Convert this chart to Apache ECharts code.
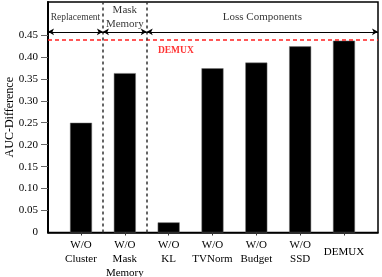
<!DOCTYPE html>
<html><head><meta charset="utf-8">
<script src="https://cdn.jsdelivr.net/npm/echarts@6/dist/echarts.min.js"></script>
<style>html,body{margin:0;padding:0;background:#fff}#c{width:382px;height:277px}</style>
</head><body><div id="c"></div>
<script>
var categories = ['W/O\nCluster', 'W/O\nMask\nMemory', 'W/O\nKL', 'W/O\nTVNorm', 'W/O\nBudget', 'W/O\nSSD', 'DEMUX'];
var values = [0.25, 0.363, 0.023, 0.374, 0.387, 0.424, 0.437];
var yTicks = [0, 0.05, 0.10, 0.15, 0.20, 0.25, 0.30, 0.35, 0.40, 0.45];
var demuxLine = 0.437;
var groupBounds = [-0.753, 0.5, 1.5, 6.776];
var groupNames = ['Replacement', 'Mask\nMemory', 'Loss Components'];
var arrowY = 0.457;
var groupLabelY = 0.49;

var serif = 'Liberation Serif';
var xIdx = categories.map(function (c, i) { return i; });

var chart = echarts.init(document.getElementById('c'));
var arrowLines = [];
for (var g = 0; g < 3; g++) {
  arrowLines.push([{ coord: [groupBounds[g], arrowY] }, { coord: [groupBounds[g + 1], arrowY] }]);
}
var groupLabelData = groupNames.map(function (n, g) {
  return { value: [(groupBounds[g] + groupBounds[g + 1]) / 2, groupLabelY], name: n,
    label: { fontSize: g === 0 ? 9.5 : 11 } };
});

chart.setOption({
  animation: false,
  grid: { left: 48, right: 4, top: 2, bottom: 44.5, show: true, borderColor: '#000', borderWidth: 1.5,
    containLabel: false, outerBoundsMode: 'none' },
  xAxis: {
    type: 'value', min: groupBounds[0], max: groupBounds[3],
    splitLine: { show: false },
    axisLine: { show: true, onZero: false, lineStyle: { color: '#000', width: 1.5 } },
    axisTick: { show: true, length: 3, lineStyle: { color: '#333' }, customValues: xIdx },
    axisLabel: {
      customValues: xIdx, color: '#000', fontFamily: serif, fontSize: 11, lineHeight: 14, margin: 6,
      formatter: function (v) {
        var i = Math.round(v);
        if (i === 6) return '{d|' + categories[i] + '}';
        return categories[i];
      },
      rich: { d: { fontFamily: serif, fontSize: 11, color: '#000', padding: [14, 0, 0, 0] } }
    }
  },
  yAxis: {
    type: 'value', min: 0, max: 0.525,
    name: 'AUC-Difference', nameLocation: 'middle', nameGap: 32, nameMoveOverlap: false,
    nameTextStyle: { fontFamily: serif, fontSize: 12, color: '#000' },
    splitLine: { show: false },
    axisLine: { show: true, onZero: false, lineStyle: { color: '#000', width: 2 } },
    axisTick: { show: true, length: 7, lineStyle: { color: '#666' }, customValues: yTicks.slice(1) },
    axisLabel: {
      customValues: yTicks, color: '#000', fontFamily: serif, fontSize: 11, margin: 10,
      formatter: function (v) { return v === 0 ? '0' : v.toFixed(2); }
    }
  },
  series: [
    {
      type: 'bar', barWidth: 22,
      data: values.map(function (v, i) { return [i, v]; }),
      itemStyle: { color: '#000', borderColor: '#777', borderWidth: 0.5 }
    },
    {
      type: 'line', data: [], silent: true,
      markLine: {
        silent: true, symbol: ['none', 'none'], label: { show: false },
        data: [
          { yAxis: demuxLine, lineStyle: { color: '#ff2020', type: [4, 3], width: 1.5 } },
          { xAxis: groupBounds[1], lineStyle: { color: '#333', type: [3, 3], width: 1.5 } },
          { xAxis: groupBounds[2], lineStyle: { color: '#333', type: [3, 3], width: 1.5 } }
        ]
      }
    },
    {
      type: 'scatter', symbolSize: 0, silent: true,
      data: groupLabelData,
      label: { show: true, position: 'inside', formatter: '{b}', color: '#000', fontFamily: serif, lineHeight: 14 },
      markLine: {
        silent: true, symbol: ['arrow', 'arrow'], symbolSize: [5, 6], label: { show: false },
        lineStyle: { color: '#000', type: 'solid', width: 1 },
        data: arrowLines
      }
    },
    {
      type: 'scatter', symbolSize: 0, silent: true,
      data: [{ value: [1.755, 0.414], name: 'DEMUX' }],
      label: { show: true, position: 'right', distance: 0, formatter: '{b}', color: '#ff0000',
        fontFamily: serif, fontWeight: 'bold', fontSize: 9.5 }
    }
  ]
});
</script></body></html>
